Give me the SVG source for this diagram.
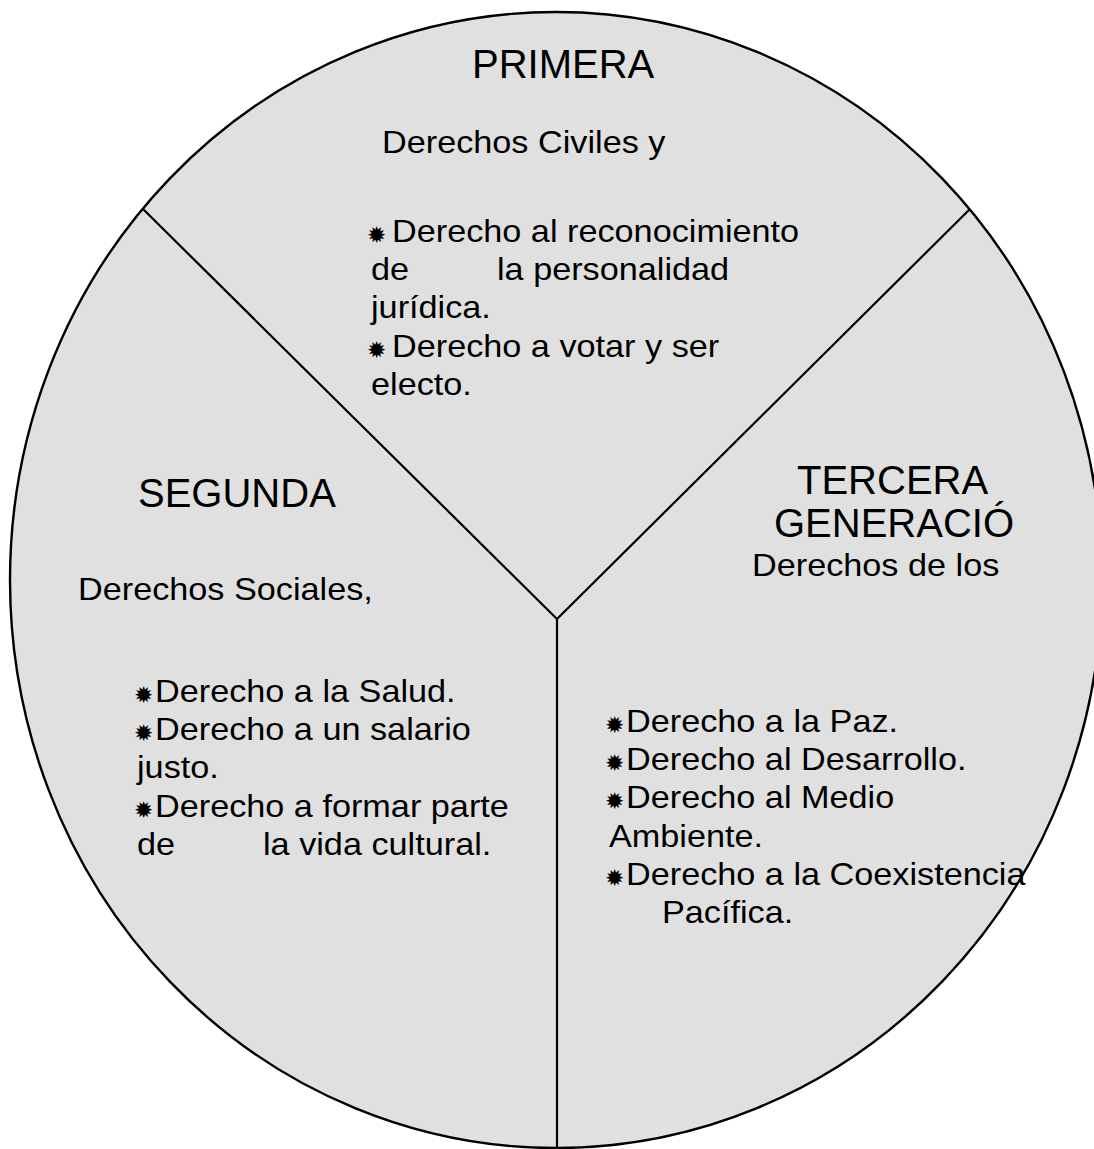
<svg xmlns="http://www.w3.org/2000/svg" width="1094" height="1149" viewBox="0 0 1094 1149">
<style>
.h{font-family:"Liberation Sans",Arial,sans-serif;font-size:40px;fill:#000}
.b{font-family:"Liberation Sans",Arial,sans-serif;font-size:32px;fill:#000}
.k{font-family:"DejaVu Sans",sans-serif;font-size:23px;fill:#000}
.ln{stroke:#000;stroke-width:2.2;fill:none}
</style>
<rect width="1094" height="1149" fill="#fff"/>
<ellipse cx="556" cy="580" rx="546" ry="568" fill="#e0e0e0" stroke="#000" stroke-width="2.4"/>
<g id="connectors">
<line class="ln" x1="557" y1="619" x2="143" y2="209"/>
<line class="ln" x1="557" y1="619" x2="970" y2="209"/>
<line class="ln" x1="557" y1="619" x2="557" y2="1149"/>
</g>
<g id="primera">
<text class="h" x="472" y="78">PRIMERA</text>
<text class="b" transform="translate(382 153) scale(1.07 1)">Derechos Civiles y</text>
<text class="k" x="367" y="243">✹</text>
<text class="b" transform="translate(392 242) scale(1.07 1)">Derecho al reconocimiento</text>
<text class="b" transform="translate(371 280) scale(1.07 1)">de</text>
<text class="b" transform="translate(497 280) scale(1.07 1)">la personalidad</text>
<text class="b" transform="translate(371 318) scale(1.07 1)">jurídica.</text>
<text class="k" x="367" y="358">✹</text>
<text class="b" transform="translate(392 357) scale(1.07 1)">Derecho a votar y ser</text>
<text class="b" transform="translate(371 395) scale(1.07 1)">electo.</text>
</g>
<g id="segunda">
<text class="h" x="138" y="507">SEGUNDA</text>
<text class="b" transform="translate(78 600) scale(1.07 1)">Derechos Sociales,</text>
<text class="k" x="134" y="703">✹</text>
<text class="b" transform="translate(155 702) scale(1.07 1)">Derecho a la Salud.</text>
<text class="k" x="134" y="741">✹</text>
<text class="b" transform="translate(155 740) scale(1.07 1)">Derecho a un salario</text>
<text class="b" transform="translate(137 778) scale(1.07 1)">justo.</text>
<text class="k" x="134" y="818">✹</text>
<text class="b" transform="translate(155 817) scale(1.07 1)">Derecho a formar parte</text>
<text class="b" transform="translate(137 855) scale(1.07 1)">de</text>
<text class="b" transform="translate(263 855) scale(1.07 1)">la vida cultural.</text>
</g>
<g id="tercera">
<text class="h" x="797" y="494">TERCERA</text>
<text class="h" x="774" y="537">GENERACIÓ</text>
<text class="b" transform="translate(752 576) scale(1.07 1)">Derechos de los</text>
<text class="k" x="605" y="733">✹</text>
<text class="b" transform="translate(626 732) scale(1.07 1)">Derecho a la Paz.</text>
<text class="k" x="605" y="771">✹</text>
<text class="b" transform="translate(626 770) scale(1.07 1)">Derecho al Desarrollo.</text>
<text class="k" x="605" y="809">✹</text>
<text class="b" transform="translate(626 808) scale(1.07 1)">Derecho al Medio</text>
<text class="b" transform="translate(609 847) scale(1.07 1)">Ambiente.</text>
<text class="k" x="605" y="886">✹</text>
<text class="b" transform="translate(626 885) scale(1.07 1)">Derecho a la Coexistencia</text>
<text class="b" transform="translate(662 923) scale(1.07 1)">Pacífica.</text>
</g>
</svg>
